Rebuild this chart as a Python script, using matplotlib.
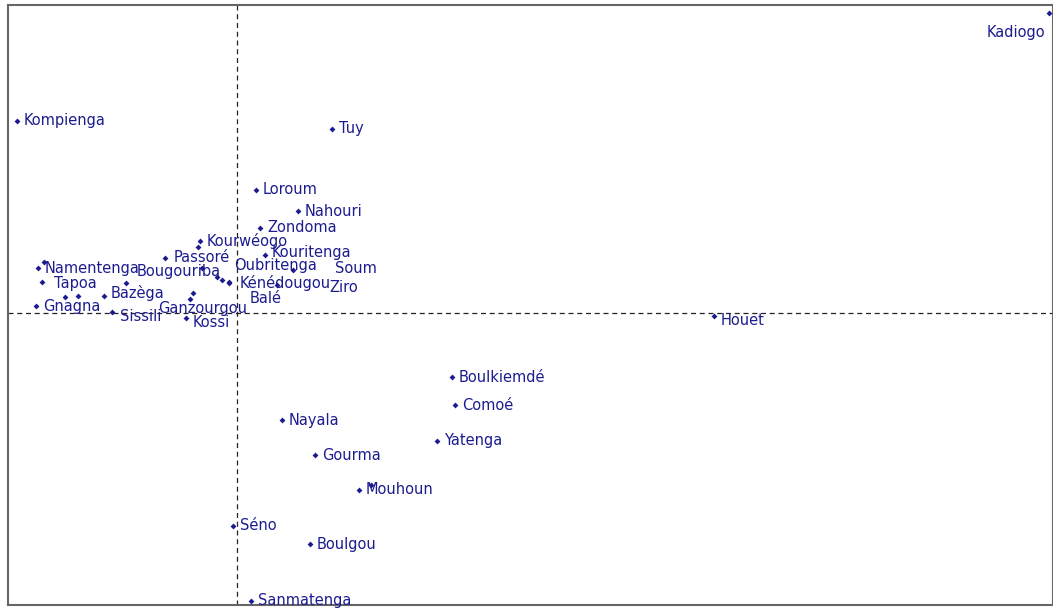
import matplotlib.pyplot as plt

# factor scores of the provinces (axis 1 / axis 2)
names = ["Kadiogo", "Kompienga", "Tuy", "Loroum", "Nahouri", "Zondoma",
         "Kourwéogo", "Passoré", "Kouritenga", "Namentenga", "Tapoa",
         "Gnagna", "Bazèga", "Sissili", "Bougouriba", "Kossi", "Ganzourgou",
         "Oubritenga", "Kénédougou", "Balé", "Soum", "Ziro",
         "Houet", "Boulkiemdé", "Comoé", "Yatenga", "Nayala", "Gourma",
         "Mouhoun", "Séno", "Boulgou", "Sanmatenga",
         "", "", "", "", "", "", "", ""]
x = [8.12, -2.20, 0.95, 0.19, 0.61, 0.23,
     -0.37, -0.72, 0.28, -1.99, -1.95,
     -2.01, -1.33, -1.25, -1.11, -0.51, -0.44,
     -0.20, -0.08, -0.08, 0.56, 0.40,
     4.77, 2.15, 2.18, 2.00, 0.45, 0.78,
     1.22, -0.04, 0.73, 0.14,
     -1.93, -1.72, -1.59, -0.39, -0.35, -0.47, 1.34, -0.15]
y = [3.00, 1.92, 1.84, 1.23, 1.02, 0.85,
     0.72, 0.55, 0.58, 0.45, 0.31,
     0.07, 0.17, 0.01, 0.30, -0.05, 0.20,
     0.36, 0.31, 0.30, 0.43, 0.28,
     -0.03, -0.64, -0.92, -1.28, -1.07, -1.42,
     -1.77, -2.13, -2.31, -2.88,
     0.51, 0.16, 0.17, 0.66, 0.45, 0.14, -1.72, 0.33]

# label placement offsets in points (dx, dy, ha)
offsets = {"Kadiogo": (-3, -14, "right"), "Houet": (5, -3, "left"),
           "Balé": (15, -11, "left"), "Kossi": (5, -3, "left"),
           "Sissili": (6, -3, "left"), "Tapoa": (9, -1, "left"),
           "Bougouriba": (8, 8, "left"), "Ganzourgou": (-25, -11, "left"),
           "Kénédougou": (8, -1, "left"), "Soum": (30, 1, "left"),
           "Ziro": (38, -2, "left"), "Oubritenga": (12, 8, "left"),
           "Kourwéogo": (5, 0, "left"), "Passoré": (6, 0, "left"),
           "Kouritenga": (5, 2, "left"), "Bazèga": (5, 2, "left")}

navy = "#1c1c8f"

fig = plt.figure(figsize=(10.53, 6.10), dpi=100)
ax = fig.add_axes([8 / 1053, 5 / 610, 1045 / 1053, 600 / 610])
ax.scatter(x, y, s=9, color=navy, marker="D", linewidths=0, zorder=3)
for n, xi, yi in zip(names, x, y):
    if not n:
        continue
    dx, dy, ha = offsets.get(n, (5, 0, "left"))
    ax.annotate(n, (xi, yi), xytext=(dx, dy), textcoords="offset points",
                ha=ha, va="center", fontsize=10.5, color=navy,
                family="DejaVu Sans")

ax.axvline(0, color="#222222", ls=(0, (4, 3)), lw=0.9)
ax.axhline(0, color="#222222", ls=(0, (4, 3)), lw=0.9)
ax.set_xlim(-2.29, 8.16)
ax.set_ylim(-2.92, 3.08)
ax.set_xticks([])
ax.set_yticks([])
for sp in ax.spines.values():
    sp.set_color("#666666")
    sp.set_linewidth(1.5)

fig.savefig("out.png", dpi=100)
